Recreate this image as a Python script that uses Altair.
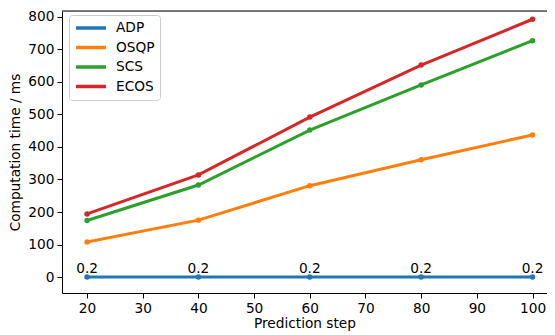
import altair as alt
import pandas as pd

steps = [20, 40, 60, 80, 100]
series = ["ADP", "OSQP", "SCS", "ECOS"]
adp = [0.2, 0.2, 0.2, 0.2, 0.2]
osqp = [108, 175, 281, 361, 437]
scs = [174, 283, 452, 591, 727]
ecos = [194, 314, 492, 652, 793]
colors = ["#1f77b4", "#ff7f0e", "#2ca02c", "#d62728"]
x_ticks = [20, 30, 40, 50, 60, 70, 80, 90, 100]
y_ticks = [0, 100, 200, 300, 400, 500, 600, 700, 800]

rows = []
for name, vals in zip(series, [adp, osqp, scs, ecos]):
    for s, v in zip(steps, vals):
        rows.append({"step": s, "time": v, "solver": name, "label": f"{v:g}"})
df = pd.DataFrame(rows)

W, H = 485, 282
FONT = "DejaVu Sans"
FS = 13.7

x = alt.X("step:Q", title="Prediction step",
          scale=alt.Scale(domain=[15.5, 102.6], nice=False, zero=False),
          axis=alt.Axis(values=x_ticks, grid=False, tickSize=5, tickColor="black",
                        domainColor="black", labelColor="black", labelFontSize=FS,
                        labelFont=FONT, titleFont=FONT, titleFontSize=FS,
                        titleFontWeight="normal", titleColor="black", labelPadding=3,
                        titlePadding=2))
y = alt.Y("time:Q", title="Computation time / ms",
          scale=alt.Scale(domain=[-49.2, 818.4], nice=False, zero=False),
          axis=alt.Axis(values=y_ticks, grid=False, tickSize=5, tickColor="black",
                        domainColor="black", labelColor="black", labelFontSize=FS,
                        labelFont=FONT, titleFont=FONT, titleFontSize=FS,
                        titleFontWeight="normal", titleColor="black", labelPadding=3,
                        titlePadding=5))
color = alt.Color("solver:N", sort=series,
                  scale=alt.Scale(domain=series, range=colors),
                  legend=alt.Legend(title=None, orient="none", legendX=7, legendY=4,
                                    symbolType="stroke", symbolSize=900,
                                    symbolStrokeWidth=3.5, labelFontSize=FS,
                                    labelFont=FONT, labelColor="black",
                                    strokeColor="#cccccc", fillColor="white",
                                    cornerRadius=3, padding=5, rowPadding=3.5,
                                    clipHeight=16, labelOffset=8))

base = alt.Chart(df)
lines = base.mark_line(strokeWidth=3).encode(x=x, y=y, color=color)
points = base.mark_circle(size=30, opacity=1).encode(x=x, y=y, color=color)
labels = base.transform_filter(alt.datum.solver == "ADP").mark_text(
    baseline="bottom", align="center", dy=-1, fontSize=FS, font=FONT, color="black"
).encode(x=x, y=y, text="label:N")
topspine = alt.Chart(pd.DataFrame({"a": [0]})).mark_rule(color="black", strokeWidth=1).encode(
    x=alt.value(0), x2=alt.value(W), y=alt.value(0))

chart = alt.layer(lines, points, labels, topspine).properties(
    width=W, height=H,
    autosize=alt.AutoSizeParams(type="none"),
    padding={"left": 54, "top": 3, "right": 0, "bottom": 42},
).configure_view(stroke=None).configure(background="white")

chart.save("out.html", embed_options={"renderer": "svg", "actions": False})
